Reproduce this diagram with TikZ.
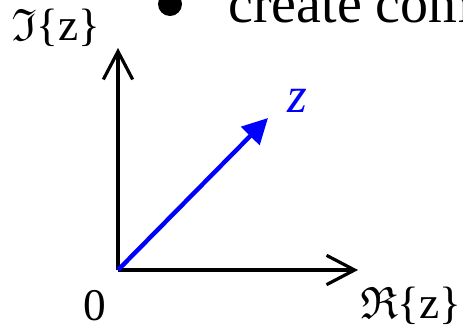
\documentclass[tikz,border=0pt]{standalone}
\usepackage{amssymb}
\usepackage{fontspec}
\setmainfont{Liberation Serif}
\usetikzlibrary{arrows.meta}

\begin{document}
\begin{tikzpicture}[x=0.75pt,y=-0.75pt, every node/.style={font=\fontsize{34}{38}\selectfont, inner sep=0pt, anchor=base}]
    \useasboundingbox (0,0) rectangle (463,333);
    \clip (0,0) rectangle (463,333);
    \coordinate (o) at (118,270);
    \coordinate (yend) at (118,48);
    \coordinate (xend) at (358,270);
    \coordinate (zend) at (268,118);
    \node[circle, fill=black, minimum size=18pt, anchor=center] (bul) at (170,4) {};
    \node[anchor=base west, font=\fontsize{42}{46}\selectfont] (txt) at (228,22) {create com};
    \node (im) at (56,40) {$\mathfrak{I}$\{z\}};
    \node (zero) at (95,320) {0};
    \node (re) at (411,318) {$\mathfrak{R}$\{z\}};
    \node[blue, font=\fontsize{38}{42}\selectfont\itshape] (zl) at (297,112) {z};
    \draw[line width=2.4pt, -{Straight Barb[length=21pt, width=22pt]}] (o) -- (yend);
    \draw[line width=2.4pt, -{Straight Barb[length=21pt, width=22pt]}] (o) -- (xend);
    \draw[blue, line width=3.3pt, -{Triangle[length=19pt, width=19pt]}] (o) -- (zend);
\end{tikzpicture}
\end{document}
